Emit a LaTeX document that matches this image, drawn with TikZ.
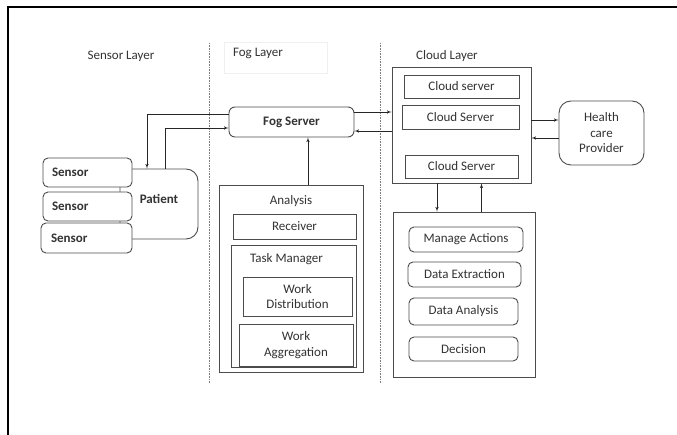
\documentclass[tikz,border=0pt]{standalone}
\usepackage{fontspec}
\setmainfont{Carlito}
\usepackage{tikz}
\usetikzlibrary{arrows,positioning}

\begin{document}
\begin{tikzpicture}
    [
      x=1pt, y=-1pt,
      font=\fontsize{13}{15.5}\selectfont,
      text=black!80,
      box/.style={draw=black!70, line width=0.9pt, fill=white, inner sep=2pt, align=center},
      rbox/.style={box, rounded corners=5pt},
      sensor/.style={rbox, font=\fontsize{13}{15.5}\selectfont\bfseries, minimum height=29, text width=71, inner xsep=9, align=left},
      layer/.style={inner sep=1pt},
      post/.style={->,>=latex',semithick,draw=black!85},
      divider/.style={densely dotted, black!50, semithick}
    ]
    \useasboundingbox (0,0) rectangle (677,435);

    % frame
    \draw [line width=2pt] (8,435) -- (8,7) -- (677,7);

    % layer titles and dividers
    \node (sensorlayer) [layer] at (121,56) {Sensor Layer};
    \node (fogbox) [draw=black!6, minimum width=103, minimum height=31] at (275.5,57.5) {};
    \node (foglayer) [layer] at (258,53) {Fog Layer};
    \node (cloudlayer) [layer] at (447,56) {Cloud Layer};
    \draw [divider] (209.5,43) -- (209.5,383);
    \draw [divider] (380,43) -- (380,383);

    % sensor layer
    \node (patient) [box, rounded corners=12pt, minimum width=78, minimum height=70,
                     label={[yshift=5pt,font=\fontsize{13}{15.5}\selectfont\bfseries]center:Patient}] at (159,204) {};
    \node (sensor1) [sensor, minimum width=89] at (87.5,172.5) {Sensor};
    \node (sensor2) [sensor, minimum width=89] at (87.5,206.5) {Sensor};
    \node (sensor3) [sensor, minimum width=91, minimum height=30] at (86.5,238) {Sensor};

    % fog layer
    \node (fogserver) [box, rounded corners=6pt, minimum width=125, minimum height=30,
                       font=\fontsize{13}{15.5}\selectfont\bfseries] at (291.5,122) {Fog Server};
    \node (analysis) [box, minimum width=144, minimum height=187,
                      label={[below=7pt]north:Analysis}] at (291,278.5) {};
    \node (receiver) [box, minimum width=123, minimum height=25] at (294.5,226.5) {Receiver};
    \node (taskman) [box, minimum width=125, minimum height=122,
                     label={[below=5pt,xshift=-7pt]north:Task Manager}] at (293.5,306) {};
    \node (workdist) [box, minimum width=109, minimum height=39] at (297.5,296.5) {Work\\Distribution};
    \node (workagg) [box, minimum width=114, minimum height=42] at (296,345) {Work\\Aggregation};

    % cloud layer
    \node (cloud) [box, minimum width=139, minimum height=116] at (461.5,125) {};
    \node (cs1) [box, minimum width=115, minimum height=23] at (461.5,86.5) {Cloud server};
    \node (cs2) [box, minimum width=117, minimum height=24] at (460.5,117) {Cloud Server};
    \node (cs3) [box, minimum width=113, minimum height=23] at (461.5,166.5) {Cloud Server};
    \node (provider) [box, rounded corners=12pt, minimum width=85, minimum height=64] at (601.5,133) {Health\\care\\Provider};
    \node (cloudproc) [box, minimum width=142, minimum height=165] at (464,294.5) {};
    \node (manage) [rbox, minimum width=114, minimum height=25] at (466,239.5) {Manage Actions};
    \node (extract) [rbox, minimum width=113, minimum height=25] at (464.5,274.5) {Data Extraction};
    \node (danalysis) [rbox, minimum width=109, minimum height=27] at (463.5,311.5) {Data Analysis};
    \node (decision) [rbox, minimum width=109, minimum height=24] at (463.5,349) {Decision};

    \draw [post] ([yshift=8]fogserver.west) -| ([xshift=-12]patient.north);
    \draw [post] ([xshift=6]patient.north) |- ([yshift=-6]fogserver.west);
    \draw [post] ([xshift=17]analysis.north) -- ([xshift=16.5]fogserver.south);
    \path
    ([yshift=10]fogserver.east) edge [post] ([yshift=13]cloud.west)
    ([yshift=-6]cloud.west) edge [post] ([yshift=-9]fogserver.east)
    ([yshift=5]cloud.east) edge [post] ([yshift=13]provider.west)
    ([yshift=-5]provider.west) edge [post] ([yshift=-13]cloud.east)
    ([xshift=-24.5]cloud.south) edge [post] ([xshift=-27]cloudproc.north)
    ([xshift=17.5]cloudproc.north) edge [post] ([xshift=20]cloud.south)
    ;

  \end{tikzpicture}
\end{document}
